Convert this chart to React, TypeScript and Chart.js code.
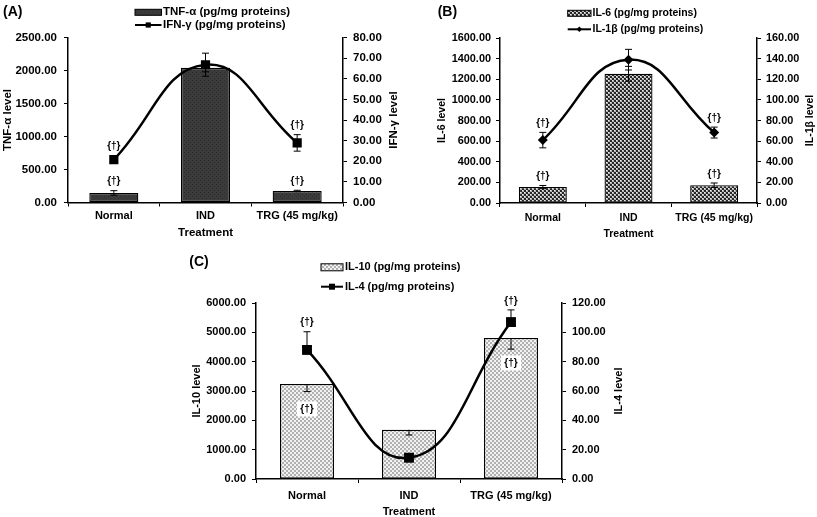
import React, { useEffect, useRef } from "react";
import { Chart, registerables } from "chart.js";

Chart.register(...registerables);

const FONT = "'Liberation Sans', Arial, Helvetica, sans-serif";

const categories = ["Normal", "IND", "TRG (45 mg/kg)"];
const xTitle = "Treatment";
const markText = "{†}";

// ---------- Panel (A) ----------
const tnfLabel = "TNF-α (pg/mg proteins)";
const tnfValues = [145, 2040, 175];
const tnfErrors = [34, 60, 10];
const tnfMarks = ["above", "", "above"];
const ifnLabel = "IFN-γ (pg/mg proteins)";
const ifnValues = [20.8, 66.8, 28.9];
const ifnErrors = [1.2, 5.6, 4.0];
const ifnMarks = ["above", "", "above"];
const aLeftTicks = [0, 500, 1000, 1500, 2000, 2500];
const aRightTicks = [0, 10, 20, 30, 40, 50, 60, 70, 80];

// ---------- Panel (B) ----------
const il6Label = "IL-6 (pg/mg proteins)";
const il6Values = [156, 1253, 172];
const il6Errors = [14, 72, 22];
const il6Marks = ["above", "", "above"];
const il1bLabel = "IL-1β (pg/mg proteins)";
const il1bValues = [61, 139, 68.3];
const il1bErrors = [7.5, 10, 5.3];
const il1bMarks = ["above", "", "above"];
const bLeftTicks = [0, 200, 400, 600, 800, 1000, 1200, 1400, 1600];
const bRightTicks = [0, 20, 40, 60, 80, 100, 120, 140, 160];

// ---------- Panel (C) ----------
const il10Label = "IL-10 (pg/mg proteins)";
const il10Values = [3240, 1680, 4808];
const il10Errors = [260, 180, 380];
const il10Marks = ["inside", "", "inside"];
const il4Label = "IL-4 (pg/mg proteins)";
const il4Values = [88, 14.5, 107];
const il4Errors = [12.4, 1.5, 8.3];
const il4Marks = ["above", "", "above"];
const cLeftTicks = [0, 1000, 2000, 3000, 4000, 5000, 6000];
const cRightTicks = [0, 20, 40, 60, 80, 100, 120];

const panelA = {
  fill: "dark",
  bar: { label: tnfLabel, values: tnfValues, errors: tnfErrors, errDir: "both", marks: tnfMarks },
  line: { label: ifnLabel, values: ifnValues, errors: ifnErrors, errDir: "both", marks: ifnMarks, pointStyle: "rect", radius: 6.5, legendR: 2.6 },
  left: { title: "TNF-α level", ticks: aLeftTicks },
  right: { title: "IFN-γ level", ticks: aRightTicks },
  L: {
    x: 0, y: 0, w: 400, h: 250,
    padding: { top: 37.5, left: 0, right: 0, bottom: 0 },
    leftW: 68, rightW: 57, xH: 47.5,
    tickSize: 11.5, xLabelSize: 11, titleSize: 11.5,
    lPad: 7, rPad: 6, xPad: 3, lTitlePad: 2.5, rTitleX: 394.3, xTitlePad: 11.25,
    barPct: 0.535,
    legend: { x0: 135, x1: 161.5, ys: [12.3, 25], textX: 163, size: 11.5, boxH: 6 },
    panel: { text: "(A)", x: 3, y: 12, size: 14 },
  },
};

const panelB = {
  fill: "check",
  bar: { label: il6Label, values: il6Values, errors: il6Errors, errDir: "both", marks: il6Marks },
  line: { label: il1bLabel, values: il1bValues, errors: il1bErrors, errDir: "both", marks: il1bMarks, pointStyle: "rectRot", radius: 5, legendR: 2.8 },
  left: { title: "IL-6 level", ticks: bLeftTicks },
  right: { title: "IL-1β level", ticks: bRightTicks },
  L: {
    x: 400, y: 0, w: 417, h: 250,
    padding: { top: 38, left: 34, right: 0, bottom: 0 },
    leftW: 66, rightW: 60, xH: 47,
    tickSize: 10.9, xLabelSize: 10.5, titleSize: 10.5,
    lPad: 5, rPad: 5, xPad: 4.4, lTitlePad: 2.75, rTitleX: 410, xTitlePad: 10.4,
    barPct: 0.56,
    legend: { x0: 167.7, x1: 191, ys: [13.3, 29.3], textX: 192.5, size: 10.5, boxH: 6 },
    panel: { text: "(B)", x: 37.7, y: 12, size: 14 },
  },
};

const panelC = {
  fill: "light",
  bar: { label: il10Label, values: il10Values, errors: il10Errors, errDir: "minus", marks: il10Marks },
  line: { label: il4Label, values: il4Values, errors: il4Errors, errDir: "plus", marks: il4Marks, pointStyle: "rect", radius: 7, legendR: 3 },
  left: { title: "IL-10 level", ticks: cLeftTicks },
  right: { title: "IL-4 level", ticks: cRightTicks },
  L: {
    x: 150, y: 250, w: 500, h: 267,
    padding: { top: 53, left: 39, right: 25, bottom: 0 },
    leftW: 67, rightW: 63, xH: 38,
    tickSize: 11, xLabelSize: 11, titleSize: 11,
    lPad: 6, rPad: 6, xPad: 6.1, lTitlePad: 2.5, rTitleX: 469, xTitlePad: 0,
    barPct: 0.53,
    legend: { x0: 171, x1: 193, ys: [17.3, 36.7], textX: 195, size: 11, boxH: 7 },
    panel: { text: "(C)", x: 39.3, y: 12.3, size: 14 },
  },
};

function makePattern(ctx: CanvasRenderingContext2D, kind: string): any {
  const c = document.createElement("canvas");
  c.width = 4;
  c.height = 4;
  const g = c.getContext("2d")!;
  if (kind === "dark") {
    g.fillStyle = "#3b3b3b";
    g.fillRect(0, 0, 4, 4);
    g.fillStyle = "#2c2c2c";
    g.fillRect(0, 0, 1, 1);
    g.fillRect(2, 2, 1, 1);
  } else if (kind === "check") {
    g.fillStyle = "#262626";
    g.fillRect(0, 0, 4, 4);
    g.fillStyle = "#b4b4b4";
    g.fillRect(0, 0, 2, 2);
    g.fillRect(2, 2, 2, 2);
    g.fillStyle = "#f0f0f0";
    g.fillRect(0, 0, 1, 1);
    g.fillRect(2, 2, 1, 1);
  } else {
    g.fillStyle = "#f2f2f2";
    g.fillRect(0, 0, 4, 4);
    g.fillStyle = "#b0b0b0";
    g.fillRect(0, 0, 2, 2);
    g.fillRect(2, 2, 2, 2);
  }
  return ctx.createPattern(c, "repeat");
}

const decorPlugin = {
  id: "decor",
  afterDatasetsDraw(chart: any) {
    const ctx = chart.ctx;
    ctx.save();
    ctx.strokeStyle = "#000";
    ctx.lineWidth = 1;
    const cap = 3.5;
    chart.data.datasets.forEach((ds: any, di: number) => {
      const meta = chart.getDatasetMeta(di);
      const sc = chart.scales[ds.yAxisID];
      ds.data.forEach((v: number, i: number) => {
        const x = meta.data[i].x;
        const e = ds.errors[i];
        const yv = sc.getPixelForValue(v);
        ctx.beginPath();
        if (ds.errDir !== "minus") {
          const yt = sc.getPixelForValue(v + e);
          ctx.moveTo(x, yv);
          ctx.lineTo(x, yt);
          ctx.moveTo(x - cap, yt);
          ctx.lineTo(x + cap, yt);
        }
        if (ds.errDir !== "plus") {
          const yb = sc.getPixelForValue(v - e);
          ctx.moveTo(x, yv);
          ctx.lineTo(x, yb);
          ctx.moveTo(x - cap, yb);
          ctx.lineTo(x + cap, yb);
        }
        ctx.stroke();
      });
    });
    ctx.font = `bold 10px ${FONT}`;
    ctx.textAlign = "center";
    ctx.textBaseline = "middle";
    chart.data.datasets.forEach((ds: any, di: number) => {
      const meta = chart.getDatasetMeta(di);
      const sc = chart.scales[ds.yAxisID];
      ds.marks.forEach((m: string, i: number) => {
        if (!m) return;
        const x = meta.data[i].x;
        const v = ds.data[i];
        const yv = sc.getPixelForValue(v);
        if (m === "inside") {
          const y = yv + 25;
          ctx.fillStyle = "#fff";
          ctx.fillRect(x - 10, y - 7.5, 20, 15);
          ctx.fillStyle = "#000";
          ctx.fillText(markText, x, y);
        } else {
          let top = yv;
          if (ds.type === "line") top = yv - ds.pointRadius * 0.71;
          if (ds.errDir !== "minus") top = Math.min(top, sc.getPixelForValue(v + ds.errors[i]));
          ctx.fillStyle = "#000";
          ctx.fillText(markText, x, top - 9);
        }
      });
    });
    ctx.restore();
  },
  afterDraw(chart: any, _a: any, o: any) {
    const ctx = chart.ctx;
    ctx.save();
    const lg = o.legend;
    ctx.textAlign = "left";
    ctx.textBaseline = "middle";
    chart.data.datasets.forEach((ds: any, i: number) => {
      const y = lg.ys[i];
      if (ds.type === "bar") {
        ctx.fillStyle = ds.backgroundColor;
        ctx.fillRect(lg.x0, y - lg.boxH / 2, lg.x1 - lg.x0, lg.boxH);
        ctx.strokeStyle = "#000";
        ctx.lineWidth = 1;
        ctx.strokeRect(lg.x0, y - lg.boxH / 2, lg.x1 - lg.x0, lg.boxH);
      } else {
        ctx.strokeStyle = "#000";
        ctx.lineWidth = 2;
        ctx.beginPath();
        ctx.moveTo(lg.x0, y);
        ctx.lineTo(lg.x1, y);
        ctx.stroke();
        const cx = (lg.x0 + lg.x1) / 2;
        const r = ds.legendR;
        ctx.fillStyle = "#000";
        if (ds.pointStyle === "rectRot") {
          ctx.beginPath();
          ctx.moveTo(cx, y - r);
          ctx.lineTo(cx + r, y);
          ctx.lineTo(cx, y + r);
          ctx.lineTo(cx - r, y);
          ctx.closePath();
          ctx.fill();
        } else {
          ctx.fillRect(cx - r, y - r, 2 * r, 2 * r);
        }
      }
      ctx.fillStyle = "#000";
      ctx.font = `bold ${lg.size}px ${FONT}`;
      ctx.fillText(ds.label, lg.textX, y);
    });
    // panel label
    const p = o.panel;
    ctx.font = `bold ${p.size}px ${FONT}`;
    ctx.fillStyle = "#000";
    ctx.fillText(p.text, p.x, p.y);
    // right axis title, reading bottom-to-top like the left one
    const ca = chart.chartArea;
    ctx.translate(o.rTitleX, (ca.top + ca.bottom) / 2);
    ctx.rotate(-Math.PI / 2);
    ctx.textAlign = "center";
    ctx.textBaseline = "middle";
    ctx.font = `bold ${o.rTitleSize}px ${FONT}`;
    ctx.fillText(o.rTitle, 0, 0);
    ctx.restore();
  },
};

function buildConfig(s: any, ctx: CanvasRenderingContext2D): any {
  const L = s.L;
  const fill = makePattern(ctx, s.fill);
  const tickFont = { family: FONT, size: L.tickSize, weight: "bold" };
  const titleFont = { family: FONT, size: L.titleSize, weight: "bold", lineHeight: 1 };
  const lt = s.left.ticks;
  const rt = s.right.ticks;
  const yGrid = { drawOnChartArea: false, drawTicks: true, tickLength: 4, color: "#000", lineWidth: 1 };
  const border = { display: true, color: "#000", width: 1.5 };
  return {
    type: "bar",
    data: {
      labels: categories,
      datasets: [
        {
          type: "bar",
          label: s.bar.label,
          data: s.bar.values,
          errors: s.bar.errors,
          errDir: s.bar.errDir,
          marks: s.bar.marks,
          backgroundColor: fill,
          borderColor: "#000",
          borderWidth: 1.3,
          borderSkipped: false,
          barPercentage: L.barPct,
          categoryPercentage: 1,
          yAxisID: "y",
          order: 1,
        },
        {
          type: "line",
          label: s.line.label,
          data: s.line.values,
          errors: s.line.errors,
          errDir: s.line.errDir,
          marks: s.line.marks,
          legendR: s.line.legendR,
          borderColor: "#000",
          backgroundColor: "#000",
          borderWidth: 2.5,
          pointStyle: s.line.pointStyle,
          pointRadius: s.line.radius,
          pointBackgroundColor: "#000",
          pointBorderColor: "#000",
          pointBorderWidth: 0,
          tension: 0.45,
          fill: false,
          yAxisID: "y1",
          order: 0,
        },
      ],
    },
    options: {
      responsive: false,
      animation: false,
      devicePixelRatio: 1,
      events: [],
      layout: { padding: L.padding },
      plugins: {
        legend: { display: false },
        tooltip: { enabled: false },
        title: { display: false },
        decor: { legend: L.legend, panel: L.panel, rTitle: s.right.title, rTitleX: L.rTitleX, rTitleSize: L.titleSize },
      },
      scales: {
        x: {
          type: "category",
          offset: true,
          grid: { offset: true, drawOnChartArea: false, drawTicks: true, tickLength: 4, color: "#000", lineWidth: 1 },
          border,
          ticks: {
            font: { family: FONT, size: L.xLabelSize, weight: "bold" },
            color: "#000",
            padding: L.xPad,
            maxRotation: 0,
            minRotation: 0,
            autoSkip: false,
          },
          title: { display: true, text: xTitle, font: titleFont, color: "#000", padding: { top: 0, bottom: L.xTitlePad } },
          afterFit: (sc: any) => {
            sc.height = L.xH;
          },
        },
        y: {
          position: "left",
          min: lt[0],
          max: lt[lt.length - 1],
          ticks: {
            stepSize: lt[1] - lt[0],
            callback: (v: any) => Number(v).toFixed(2),
            font: tickFont,
            color: "#000",
            padding: L.lPad,
            autoSkip: false,
          },
          grid: yGrid,
          border,
          title: { display: true, text: s.left.title, font: titleFont, color: "#000", padding: { top: L.lTitlePad, bottom: 0 } },
          afterFit: (sc: any) => {
            sc.width = L.leftW;
          },
        },
        y1: {
          position: "right",
          min: rt[0],
          max: rt[rt.length - 1],
          ticks: {
            stepSize: rt[1] - rt[0],
            callback: (v: any) => Number(v).toFixed(2),
            font: tickFont,
            color: "#000",
            padding: L.rPad,
            autoSkip: false,
          },
          grid: yGrid,
          border,
          title: { display: false },
          afterFit: (sc: any) => {
            sc.width = L.rightW;
          },
        },
      },
    },
    plugins: [decorPlugin],
  };
}

function Panel({ spec }: { spec: any }) {
  const ref = useRef<HTMLCanvasElement>(null);
  useEffect(() => {
    const canvas = ref.current!;
    const ctx = canvas.getContext("2d")!;
    const chart = new Chart(ctx, buildConfig(spec, ctx));
    return () => chart.destroy();
  }, [spec]);
  const L = spec.L;
  return (
    <div style={{ position: "absolute", left: L.x, top: L.y, width: L.w, height: L.h }}>
      <canvas ref={ref} width={L.w} height={L.h} style={{ display: "block", width: L.w, height: L.h }} />
    </div>
  );
}

export default function App() {
  return (
    <div style={{ position: "absolute", left: 0, top: 0, width: 817, height: 517, background: "#fff", overflow: "hidden" }}>
      <Panel spec={panelA} />
      <Panel spec={panelB} />
      <Panel spec={panelC} />
    </div>
  );
}
